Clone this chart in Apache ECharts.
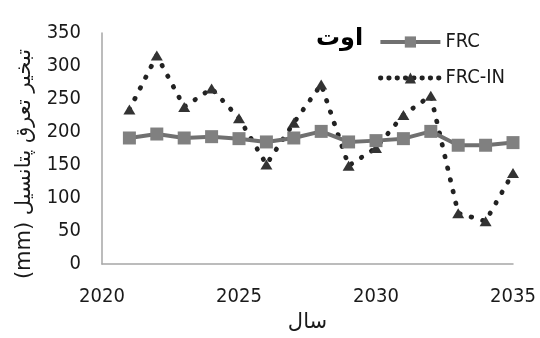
<!DOCTYPE html>
<html>
<head>
<meta charset="utf-8">
<script src="https://cdn.jsdelivr.net/npm/echarts@6/dist/echarts.min.js"></script>
<style>
  html, body { margin: 0; padding: 0; background: #fff; }
  #chart { width: 540px; height: 338px; }
</style>
</head>
<body>
<div id="chart"></div>
<script>
// Years on the horizontal axis
const years = [2021, 2022, 2023, 2024, 2025, 2026, 2027, 2028, 2029, 2030, 2031, 2032, 2033, 2034, 2035];
// Potential evapotranspiration (mm), August
const frc   = [191, 197, 191, 193, 190, 185, 191, 201, 185, 187, 190, 201, 180, 180, 184];
const frcIn = [234, 316, 238, 266, 221, 151, 214, 272, 149, 176, 226, 255, 77, 65, 138];

const seriesNames = ['FRC', 'FRC-IN'];
const legendTitle = 'اوت';
const xName = 'سال';
const yName = '(mm) تبخیر تعرق پتانسیل';

const pairs = (vals) => years.map((y, i) => [y, vals[i]]);

const chart = echarts.init(document.getElementById('chart'), null, { renderer: 'canvas' });
const tickFont = { fontFamily: 'DejaVu Sans Condensed, Liberation Sans, sans-serif', fontSize: 20, color: '#1a1a1a' };

const frcLine = { color: '#707070', width: 4 };
const frcInLine = { color: '#222222', width: 4.8, type: [0.5, 11.5], cap: 'round' };
const frcInLegendLine = { color: '#222222', width: 4.8, type: [0.5, 7.8], cap: 'round' };

chart.setOption({
  animation: false,
  backgroundColor: '#ffffff',
  grid: { left: 102, right: 27, top: 33, bottom: 66 },
  xAxis: {
    type: 'value', min: 2020, max: 2035, interval: 5,
    name: xName, nameLocation: 'middle', nameGap: 44,
    nameTextStyle: { fontFamily: 'DejaVu Sans, sans-serif', fontSize: 21, color: '#1a1a1a' },
    axisLine: { show: true, lineStyle: { color: '#a6a6a6', width: 1.5 } },
    axisTick: { show: false },
    splitLine: { show: false },
    axisLabel: Object.assign({ margin: 23, formatter: (v) => String(v) }, tickFont)
  },
  yAxis: {
    type: 'value', min: 0, max: 350, interval: 50,
    axisLine: { show: true, lineStyle: { color: '#a6a6a6', width: 1.5 } },
    axisTick: { show: false },
    splitLine: { show: false },
    axisLabel: Object.assign({ margin: 21 }, tickFont)
  },
  legend: {
    orient: 'vertical', left: 373, top: 27, itemGap: 16,
    itemWidth: 60, itemHeight: 14,
    textStyle: { fontFamily: 'DejaVu Sans Condensed, Liberation Sans, sans-serif', fontSize: 20, color: '#1a1a1a' },
    data: [
      { name: seriesNames[0], lineStyle: frcLine },
      { name: seriesNames[1], lineStyle: frcInLegendLine }
    ]
  },
  graphic: [
    {
      type: 'text', left: 316, top: 27,
      style: { text: legendTitle, font: 'bold 24px "DejaVu Sans", sans-serif', fill: '#000' }
    },
    {
      type: 'text', x: 25, y: 164, rotation: Math.PI / 2,
      style: { text: yName, font: '21px "DejaVu Sans", sans-serif', fill: '#1a1a1a', align: 'center', verticalAlign: 'middle' }
    }
  ],
  series: [
    {
      name: seriesNames[1], type: 'line', data: pairs(frcIn), z: 2,
      symbol: 'triangle', symbolSize: [12, 10],
      itemStyle: { color: '#333333' },
      lineStyle: frcInLine
    },
    {
      name: seriesNames[0], type: 'line', data: pairs(frc), z: 3,
      symbol: 'rect', symbolSize: 13,
      itemStyle: { color: '#808080' },
      lineStyle: frcLine
    }
  ]
});
</script>
</body>
</html>
